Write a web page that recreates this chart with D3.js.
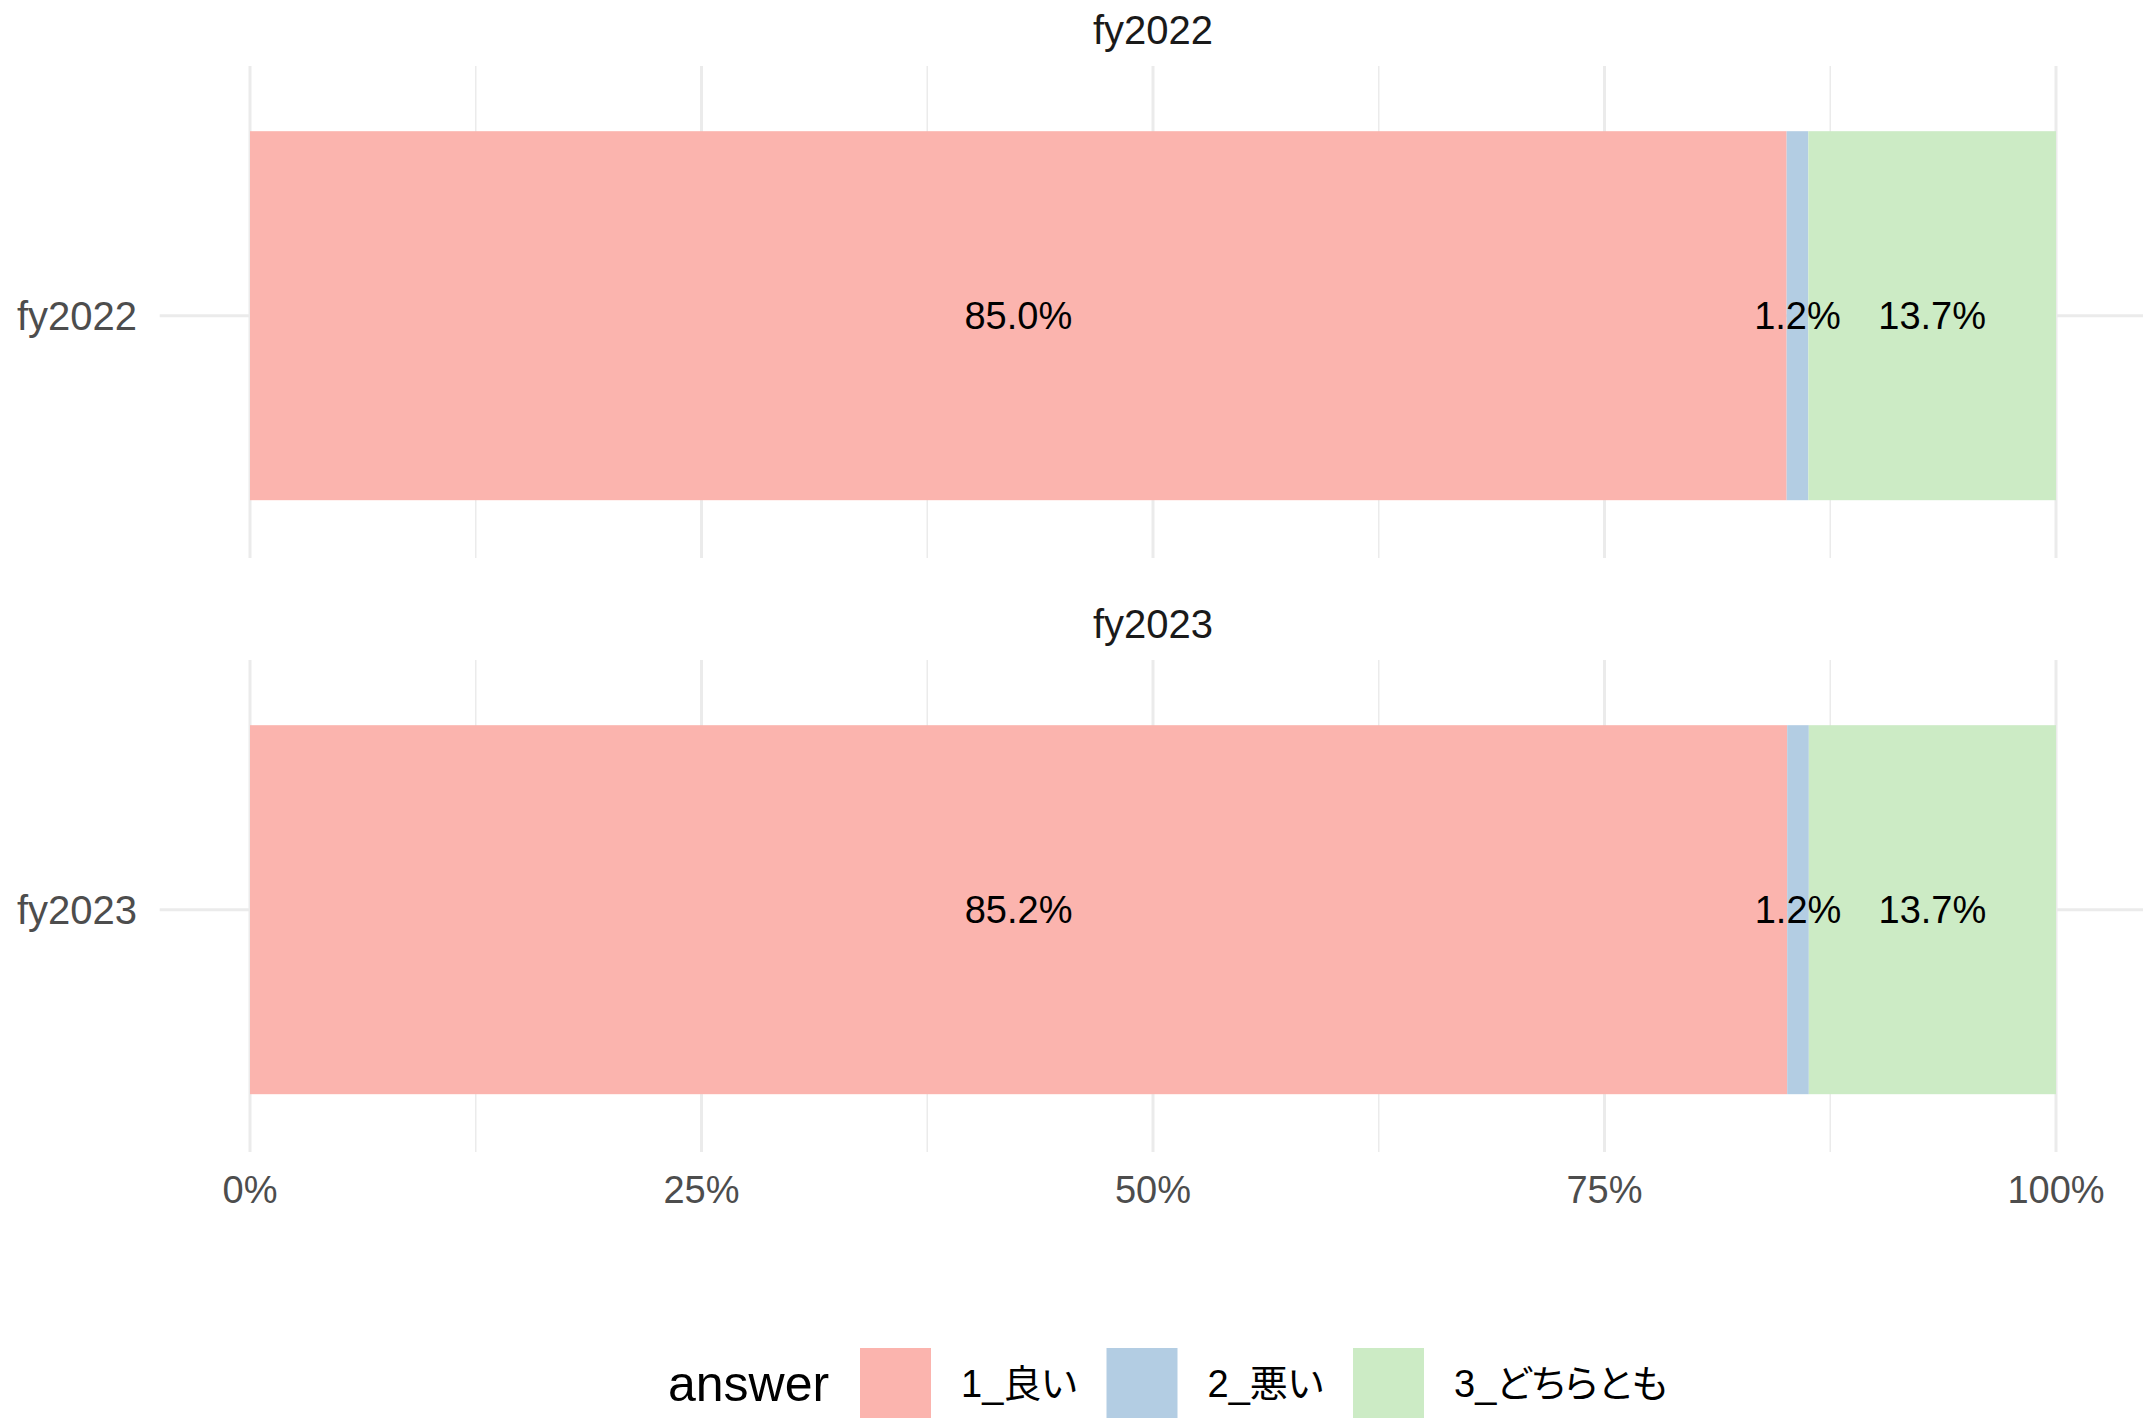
<!DOCTYPE html>
<html>
<head>
<meta charset="utf-8">
<script src="https://cdn.jsdelivr.net/npm/d3@7"></script>
<style>
  body { margin: 0; background: #fff; }
  text { font-family: "Liberation Sans", Arial, "Noto Sans CJK JP", sans-serif; }
  .legend text { font-feature-settings: "palt"; }
</style>
</head>
<body>
<div id="chart"></div>
<script>
// data (percent of answers per year)
const years = ['fy2022', 'fy2023'];
const answers = ['1_良い', '2_悪い', '3_どちらとも'];
const good = [85.0, 85.2];
const bad = [1.2, 1.2];
const neither = [13.7, 13.7];
const xTicks = [0, 0.25, 0.5, 0.75, 1];
const xTickLabels = ['0%', '25%', '50%', '75%', '100%'];
const minorTicks = [0.125, 0.375, 0.625, 0.875];
const colours = ['#FBB4AE', '#B3CDE3', '#CCEBC5'];

const width = 2143;
const height = 1418;

// layout
const panelTops = [66, 660];
const panelH = 492;

let svg = d3.select('#chart')
    .append('svg')
    .attr('width', width)
    .attr('height', height);

let x = d3.scaleLinear().domain([0, 1]).range([250, 2056]);
let panelLeft = x(-0.05);
let panelRight = x(1.05);

let colour = d3.scaleOrdinal().domain(answers).range(colours);

// turn the arrays into stacked, normalised rows
let rows = years.map((yr, i) => {
    let vals = [good[i], bad[i], neither[i]];
    let total = d3.sum(vals);
    let start = 0;
    return vals.map((v, j) => {
        let seg = { year: yr, answer: answers[j], value: v, x0: start / total, x1: (start + v) / total };
        start += v;
        return seg;
    });
});

years.forEach((yr, i) => {
    let top = panelTops[i];
    let y = d3.scaleBand()
        .domain([yr])
        .range([top, top + panelH])
        .paddingInner(0)
        .paddingOuter(1 / 6)
        .align(0.53);

    let mid = y(yr) + y.bandwidth() / 2;
    let g = svg.append('g').attr('class', 'panel');

    // minor + major vertical grid
    g.selectAll('.minor')
        .data(minorTicks)
        .join('line')
        .attr('x1', d => x(d)).attr('x2', d => x(d))
        .attr('y1', top).attr('y2', top + panelH)
        .attr('stroke', '#EBEBEB')
        .attr('stroke-width', 1.5);

    g.selectAll('.major')
        .data(xTicks)
        .join('line')
        .attr('x1', d => x(d)).attr('x2', d => x(d))
        .attr('y1', top).attr('y2', top + panelH)
        .attr('stroke', '#EBEBEB')
        .attr('stroke-width', 3);

    // horizontal grid at the category
    g.append('line')
        .attr('x1', panelLeft).attr('x2', panelRight)
        .attr('y1', mid)
        .attr('y2', mid)
        .attr('stroke', '#EBEBEB')
        .attr('stroke-width', 3);

    // strip title
    svg.append('text')
        .attr('x', x(0.5))
        .attr('y', top - 36)
        .attr('text-anchor', 'middle')
        .attr('dominant-baseline', 'central')
        .attr('font-size', 40)
        .attr('fill', '#1A1A1A')
        .text(yr);

    // y axis label
    svg.append('text')
        .attr('x', 137)
        .attr('y', mid)
        .attr('text-anchor', 'end')
        .attr('dominant-baseline', 'central')
        .attr('font-size', 40)
        .attr('fill', '#4D4D4D')
        .text(yr);

    // bars
    g.selectAll('.seg')
        .data(rows[i])
        .join('rect')
        .attr('class', 'seg')
        .attr('x', d => x(d.x0))
        .attr('width', d => x(d.x1) - x(d.x0))
        .attr('y', y(yr))
        .attr('height', y.bandwidth())
        .attr('fill', d => colour(d.answer));

    // value labels in the middle of each segment
    g.selectAll('.lbl')
        .data(rows[i])
        .join('text')
        .attr('x', d => x((d.x0 + d.x1) / 2))
        .attr('y', mid)
        .attr('text-anchor', 'middle')
        .attr('dominant-baseline', 'central')
        .attr('font-size', 38)
        .attr('fill', '#000')
        .text(d => d.value.toFixed(1) + '%');
});

// x axis labels (only under the bottom panel)
svg.selectAll('.xlab')
    .data(xTicks)
    .join('text')
    .attr('x', d => x(d))
    .attr('y', 1190)
    .attr('text-anchor', 'middle')
    .attr('dominant-baseline', 'central')
    .attr('font-size', 38)
    .attr('fill', '#4D4D4D')
    .text((d, i) => xTickLabels[i]);

// legend
let legend = svg.append('g').attr('class', 'legend');
legend.append('text')
    .attr('x', 668)
    .attr('y', 1384)
    .attr('dominant-baseline', 'central')
    .attr('font-size', 50)
    .attr('fill', '#000')
    .text('answer');

let keyX = d3.scalePoint().domain(answers).range([860, 1353]);
answers.forEach(a => {
    legend.append('rect')
        .attr('x', keyX(a))
        .attr('y', 1348)
        .attr('width', 71)
        .attr('height', 71)
        .attr('fill', colour(a));
    legend.append('text')
        .attr('x', keyX(a) + 101)
        .attr('y', 1384)
        .attr('dominant-baseline', 'central')
        .attr('font-size', 38)
        .attr('fill', '#000')
        .text(a);
});
</script>
</body>
</html>
